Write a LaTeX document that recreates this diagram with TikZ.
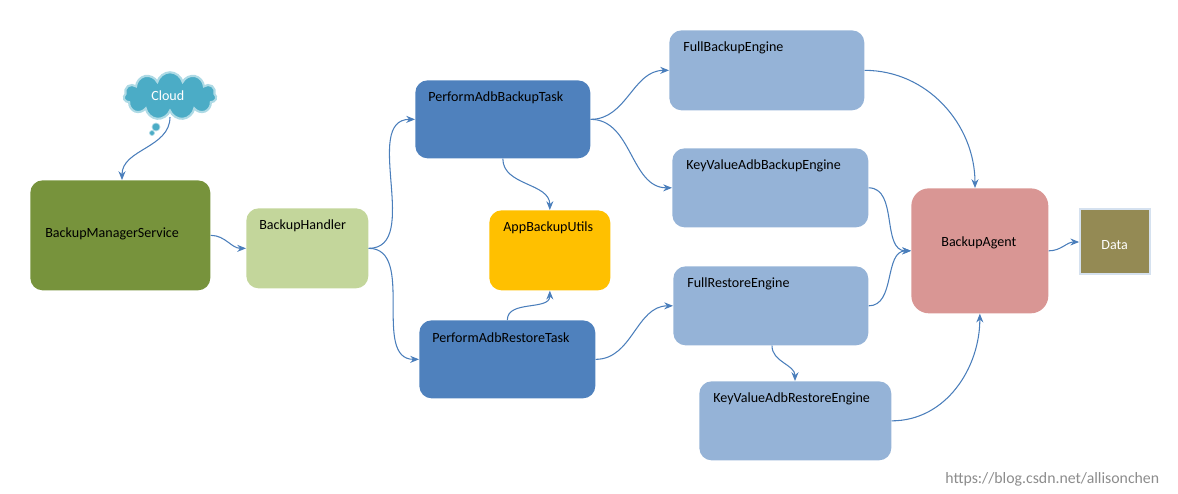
\documentclass[tikz,border=0pt]{standalone}
\usepackage{fontspec}
\setmainfont{Carlito}
\usetikzlibrary{arrows.meta,shapes.symbols,shapes.geometric}
\definecolor{cGreen}{HTML}{77933C}
\definecolor{cLGreen}{HTML}{C3D69B}
\definecolor{cBlue}{HTML}{4F81BD}
\definecolor{cLBlue}{HTML}{95B3D7}
\definecolor{cGold}{HTML}{FFC000}
\definecolor{cRose}{HTML}{D99694}
\definecolor{cOlive}{HTML}{948A54}
\definecolor{cSky}{HTML}{4BACC6}
\definecolor{cEdge}{HTML}{4A7EBB}
\tikzset{
  box/.style={rounded corners=7pt,anchor=north west,inner sep=0pt},
  lbl/.style={anchor=west,inner sep=0pt,font=\fontsize{8}{9.6}\selectfont},
  link/.style={draw=cEdge,line width=0.6pt,-{Stealth[length=5pt,width=4pt]}}
}
\begin{document}
\begin{tikzpicture}[x=0.02cm,y=-0.02cm]
  \useasboundingbox (0,0) rectangle (1178,494);
  % boxes
  \node[box,fill=cGreen,minimum width=3.6cm,minimum height=2.2cm] (bms) at (30,180) {};
  \node[box,fill=cLGreen,minimum width=2.44cm,minimum height=1.6cm] (bh) at (246,208) {};
  \node[box,fill=cBlue,minimum width=3.5cm,minimum height=1.56cm] (pabt) at (415,80) {};
  \node[box,fill=cGold,minimum width=2.42cm,minimum height=1.6cm] (abu) at (489,210) {};
  \node[box,fill=cBlue,minimum width=3.52cm,minimum height=1.56cm] (part) at (419,320) {};
  \node[box,fill=cLBlue,minimum width=3.9cm,minimum height=1.6cm] (fbe) at (669,30) {};
  \node[box,fill=cLBlue,minimum width=3.92cm,minimum height=1.58cm] (kvbe) at (672,148) {};
  \node[box,fill=cLBlue,minimum width=3.9cm,minimum height=1.58cm] (fre) at (673,266) {};
  \node[box,fill=cLBlue,minimum width=3.84cm,minimum height=1.58cm] (kvre) at (699,381) {};
  \node[box,fill=cRose,rounded corners=10pt,minimum width=2.74cm,minimum height=2.5cm] (agent) at (911,188) {};
  \node[cylinder,shape border rotate=90,aspect=0.22,fill=cOlive,draw=cLBlue!40,line width=1pt,
        minimum width=1.4cm,minimum height=1.3cm,inner sep=0pt] (data) at (1115,242) {};
  \node[cloud,cloud puffs=11,aspect=1.9,fill=cSky,draw=cSky!45,line width=1.2pt,
        minimum width=1.85cm,minimum height=0.95cm] (cloud) at (170,96) {};
  \fill[cSky,draw=cSky!45] (156,127) circle (4) (152,133) circle (2.5);
  % texts
  \node[lbl] (tbms) at (45,234) {BackupManagerService};
  \node[lbl] (tbh) at (259,226) {BackupHandler};
  \node[lbl] (tpabt) at (428,98) {PerformAdbBackupTask};
  \node[lbl] (tabu) at (503,228) {AppBackupUtils};
  \node[lbl] (tpart) at (432,338) {PerformAdbRestoreTask};
  \node[lbl] (tfbe) at (683,48) {FullBackupEngine};
  \node[lbl] (tkvbe) at (686,166) {KeyValueAdbBackupEngine};
  \node[lbl] (tfre) at (687,284) {FullRestoreEngine};
  \node[lbl] (tkvre) at (713,399) {KeyValueAdbRestoreEngine};
  \node[lbl] (tagent) at (941,243) {BackupAgent};
  \node[lbl,text=white] (tdata) at (1101,245) {Data};
  \node[lbl,text=white] (tcloud) at (151,96) {Cloud};
  \node[lbl,text=black!45,font=\fontsize{9}{11}\selectfont] (mark) at (945,479) {https://blog.csdn.net/allisonchen};
  % connectors
  \draw[link] (cloud.south) ++(0,4) to[out=-90,in=90] (bms.north -| 122,0);
  \draw[link] (bms.east) to[out=0,in=180] (bh.west);
  \draw[link] (bh.east) to[out=0,in=180] (pabt.west);
  \draw[link] (bh.east) to[out=0,in=180] (part.west);
  \draw[link] (pabt.south) to[out=-90,in=90] (abu.north);
  \draw[link] (part.north) to[out=90,in=-90] (abu.south);
  \draw[link] (pabt.east) to[out=0,in=180] (fbe.west);
  \draw[link] (pabt.east) to[out=0,in=180] (kvbe.west);
  \draw[link] (part.east) to[out=0,in=180] (fre.west);
  \draw[link] (fre.south -| 772,0) to[out=-90,in=90] (kvre.north -| 795,0);
  \draw[link] (fbe.east) to[out=0,in=90] (agent.north -| 975,0);
  \draw[link] (kvbe.east) to[out=0,in=180] (agent.west);
  \draw[link] (fre.east) to[out=0,in=180] (agent.west);
  \draw[link] (kvre.east) to[out=0,in=-90] (agent.south);
  \draw[link] (agent.east) to[out=0,in=180] (data.west);
\end{tikzpicture}
\end{document}
